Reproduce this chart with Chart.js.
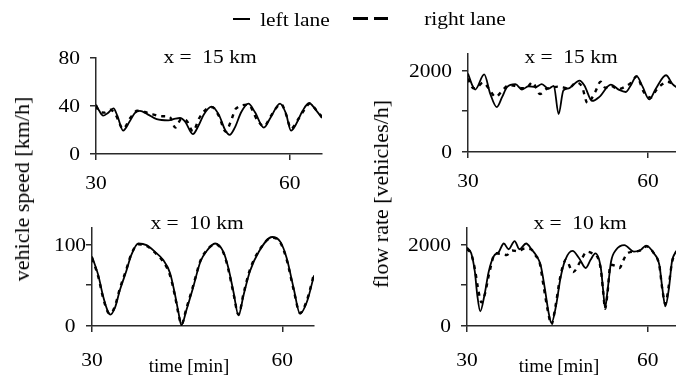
<!DOCTYPE html>
<html>
<head>
<meta charset="utf-8">
<script src="https://cdn.jsdelivr.net/npm/chart.js@4.4.1/dist/chart.umd.min.js"></script>
<style>
  html, body { margin: 0; padding: 0; background: #fff; overflow: hidden; width: 676px; height: 381px; }
  canvas { position: absolute; left: 0; top: 0; }
  .t { position: absolute; font-family: "Liberation Serif", "Times New Roman", serif; color: #000;
       white-space: pre; line-height: 1; transform: translate(-50%, -50%) scaleX(1.13); }
  .rot { position: absolute; font-family: "Liberation Serif", "Times New Roman", serif; color: #000;
         white-space: pre; line-height: 1; font-size: 22px; transform: translate(-50%, -50%) rotate(-90deg); }
  .key { position: absolute; background: #000; }
</style>
</head>
<body>
<canvas id="speed15" width="680" height="381"></canvas>
<canvas id="flow15" width="680" height="381"></canvas>
<canvas id="speed10" width="680" height="381"></canvas>
<canvas id="flow10" width="680" height="381"></canvas>

<!-- legend -->
<div class="key" style="left:233px;top:18px;width:17px;height:2px;"></div>
<div class="t" style="left:295px;top:19px;font-size:19px;">left lane</div>
<div class="key" style="left:353px;top:17px;width:15px;height:3px;"></div>
<div class="key" style="left:374px;top:17px;width:14px;height:3px;"></div>
<div class="t" style="left:465px;top:18px;font-size:19px;">right lane</div>

<!-- panel titles -->
<div class="t" style="left:210px;top:56px;font-size:19px;">x =  15 km</div>
<div class="t" style="left:571px;top:56px;font-size:19px;">x =  15 km</div>
<div class="t" style="left:197px;top:222px;font-size:19px;">x =  10 km</div>
<div class="t" style="left:580px;top:222px;font-size:19px;">x =  10 km</div>

<!-- axis titles -->
<div class="rot" style="left:22px;top:189px;">vehicle speed [km/h]</div>
<div class="rot" style="left:381px;top:194px;">flow rate [vehicles/h]</div>
<div class="t" style="left:189px;top:365px;font-size:19px;transform:translate(-50%,-50%);">time [min]</div>
<div class="t" style="left:559px;top:365px;font-size:19px;transform:translate(-50%,-50%);">time [min]</div>

<script>
// ---- time axis (minutes) ----
const timeTicks = [30, 60];
const timeLabels = ['30', '60'];

// ---- speed at x = 15 km ----
const speed15Ticks = [0, 40, 80];
const speed15Labels = ['0', '40', '80'];
const speed15LeftT  = [30, 30.5, 31.1, 31.8, 32.7, 33.3, 34.2, 35.2, 36.0, 36.8, 38.0, 39.4, 41.2, 42.3, 43.0, 43.8, 45.0, 45.9, 46.7, 47.9, 49.0, 50.0, 50.7, 51.5, 52.5, 53.6, 54.6, 56.0, 57.0, 58.5, 59.4, 60.2, 61.0, 62.0, 63.0, 64.0, 65.0];
const speed15LeftV  = [41, 36, 32, 34, 38, 32, 19.5, 27, 34, 36, 33, 29, 28, 29.5, 30, 27, 16.5, 24, 33, 39.5, 33, 20, 16, 22, 35, 42, 35, 22, 30, 42, 34, 19.5, 25, 36, 42.5, 37, 30];
const speed15RightT = [30, 30.6, 31.3, 32.2, 33.0, 34.2, 35.3, 36.4, 37.5, 38.8, 40.2, 41.4, 42.3, 43.2, 44.0, 45.0, 46.0, 47.0, 48.0, 49.0, 50.1, 50.8, 51.7, 53.6, 55.0, 56.0, 57.0, 58.0, 58.7, 59.5, 60.2, 61.2, 62.3, 63.1, 64.2, 65.0];
const speed15RightV = [40, 35, 34.5, 37, 33, 21, 30, 36, 35, 33, 31.5, 31, 22, 29, 28, 19, 30, 37, 39, 32, 18.5, 26, 38, 41, 28, 23, 31, 39, 41.5, 32, 21, 28, 37, 42, 36, 31];

// ---- flow at x = 15 km ----
const flow15Ticks = [0, 1000, 2000];
const flow15Labels = ['0', '', '2000'];
const flow15LeftT  = [30, 30.7, 31.2, 32.7, 33.7, 34.8, 35.7, 36.5, 37.9, 39.0, 40.1, 41.2, 42.3, 43.4, 44.3, 45.1, 45.9, 46.8, 48.6, 49.4, 50.7, 51.9, 53.8, 55.2, 56.3, 57.2, 58.1, 59.1, 60.2, 61.3, 63.0, 64.1, 65.0];
const flow15LeftV  = [1920, 1640, 1530, 1900, 1430, 1100, 1350, 1590, 1660, 1530, 1610, 1590, 1660, 1550, 1620, 930, 1510, 1560, 1750, 1630, 1250, 1350, 1650, 1520, 1470, 1650, 1860, 1600, 1290, 1550, 1880, 1660, 1560];
const flow15RightT = [30, 30.3, 30.9, 31.5, 32.5, 33.5, 34.6, 35.8, 36.8, 37.8, 39.0, 40.0, 40.7, 42.0, 43.0, 44.1, 45.0, 45.9, 46.8, 48.0, 49.0, 49.9, 51.2, 52.1, 52.9, 53.7, 55.0, 56.3, 57.2, 58.1, 59.3, 60.5, 61.3, 62.2, 63.2, 64.6, 65.0];
const flow15RightV = [1800, 1700, 1560, 1580, 1700, 1550, 1350, 1520, 1640, 1620, 1560, 1600, 1710, 1420, 1540, 1580, 1600, 1580, 1560, 1700, 1600, 1200, 1470, 1720, 1570, 1630, 1540, 1610, 1700, 1850, 1470, 1330, 1500, 1640, 1720, 1640, 1620];

// ---- speed at x = 10 km ----
const speed10Ticks = [0, 50, 100];
const speed10Labels = ['0', '', '100'];
const speed10LeftT  = [30, 31.0, 31.7, 32.5, 32.9, 33.6, 34.4, 35.4, 36.2, 37.3, 38.6, 39.9, 41.2, 42.3, 43.1, 43.6, 44.1, 44.9, 45.9, 47.1, 48.0, 49.4, 50.7, 51.5, 52.3, 53.1, 53.9, 54.9, 56.3, 58.4, 59.7, 60.7, 61.8, 62.8, 63.9, 65.0];
const speed10LeftV  = [85, 62, 38, 18, 14, 22, 44, 67, 87, 101, 99, 91, 81, 65, 38, 18, 1, 20, 46, 79, 91, 101, 91, 71, 42, 13, 38, 67, 91, 109, 103, 83, 46, 15, 30, 62];
const speed10RightT = speed10LeftT;
const speed10RightV = [83, 60, 36, 17, 15, 24, 46, 69, 88, 100, 98, 90, 79, 62, 36, 16, 2, 22, 48, 80, 92, 100, 90, 69, 40, 14, 40, 69, 92, 108, 102, 81, 44, 16, 32, 64];

// ---- flow at x = 10 km ----
const flow10Ticks = [0, 1000, 2000];
const flow10Labels = ['0', '', '2000'];
const flow10LeftT  = [30, 30.7, 31.3, 31.7, 32.2, 32.9, 33.6, 34.4, 35.3, 36.1, 36.9, 37.9, 38.7, 39.8, 40.8, 41.6, 42.2, 42.9, 43.5, 44.0, 44.8, 45.5, 46.3, 47.5, 48.6, 49.7, 50.5, 51.3, 52.2, 52.6, 52.9, 53.3, 53.9, 54.7, 56.1, 57.7, 58.8, 59.7, 61.0, 61.9, 62.4, 62.9, 63.5, 64.0, 64.7, 65.0];
const flow10LeftV  = [1920, 1780, 1330, 760, 360, 760, 1330, 1700, 1820, 2020, 1880, 2080, 1880, 2020, 1860, 1700, 1500, 930, 360, 70, 520, 1170, 1620, 1840, 1660, 1420, 1620, 1780, 1420, 850, 440, 850, 1580, 1860, 1980, 1820, 1860, 1970, 1780, 1500, 930, 480, 930, 1580, 1820, 1880];
const flow10RightT = [30, 30.7, 31.3, 31.8, 32.4, 33.0, 33.7, 34.7, 35.5, 36.6, 37.5, 38.5, 39.6, 40.6, 41.4, 42.0, 42.7, 43.4, 44.0, 44.7, 45.4, 46.4, 47.6, 48.8, 49.9, 50.8, 51.6, 52.2, 52.6, 52.9, 53.3, 53.8, 54.5, 55.3, 55.9, 56.6, 57.7, 58.8, 59.8, 61.0, 61.9, 62.4, 62.9, 63.4, 64.0, 64.6, 65.0];
const flow10RightV = [1880, 1760, 1400, 950, 580, 800, 1300, 1780, 1770, 1740, 1850, 1830, 1900, 1880, 1720, 1580, 980, 380, 40, 500, 1150, 1620, 1320, 1580, 1820, 1780, 1700, 1380, 820, 420, 800, 1500, 1480, 1420, 1600, 1780, 1820, 1850, 1950, 1780, 1480, 900, 540, 920, 1550, 1800, 1850];

const PAGE_W = 680, PAGE_H = 381;
const FONT = '"Liberation Serif", "Times New Roman", serif';
const INK = '#000';
const AXIS = '#2a2a2a';

function points(ts, vs) {
  return ts.map((t, i) => ({ x: t, y: vs[i] }));
}

// draws tick labels slightly widened, positioned from the chart's own scales
const tickText = {
  id: 'tickText',
  afterDraw(chart, args, o) {
    const ctx = chart.ctx;
    const xs = chart.scales.x, ys = chart.scales.y;
    const put = (txt, x, y, align) => {
      ctx.save();
      ctx.translate(x, y);
      ctx.scale(o.stretch, 1);
      ctx.textAlign = align;
      ctx.textBaseline = 'alphabetic';
      ctx.fillText(txt, 0, 0);
      ctx.restore();
    };
    ctx.save();
    ctx.fillStyle = INK;
    ctx.font = o.size + 'px ' + FONT;
    o.yTicks.forEach((v, i) => {
      const lab = o.yLabels[i];
      if (!lab) return;
      put(lab, ys.right - o.yGap, ys.getPixelForValue(v) + 0.34 * o.size, o.yAlign);
    });
    o.xTicks.forEach((v, i) => {
      put(o.xLabels[i], xs.getPixelForValue(v), xs.top + o.xGap + 0.34 * o.size, 'center');
    });
    ctx.restore();
  }
};

function panel(id, area, yMax, yTicks, yLabels, left, right, yGap, yAlign, xGap) {
  const axisCommon = {
    ticks: { display: false },
    grid: { drawOnChartArea: false, drawTicks: true, tickLength: 6, color: AXIS, lineWidth: 1.5 },
    border: { display: true, color: AXIS, width: 1.5 }
  };
  return new Chart(document.getElementById(id), {
    type: 'line',
    data: {
      datasets: [
        { label: 'left lane', data: points(left[0], left[1]), borderColor: INK, borderWidth: 1.8,
          pointRadius: 0, fill: false, cubicInterpolationMode: 'monotone' },
        { label: 'right lane', data: points(right[0], right[1]), borderColor: INK, borderWidth: 2.4,
          borderDash: [4, 5], pointRadius: 0, fill: false, cubicInterpolationMode: 'monotone' }
      ]
    },
    options: {
      responsive: false,
      animation: false,
      devicePixelRatio: 1,
      events: [],
      layout: { padding: { left: area[0], top: area[1], right: PAGE_W - area[2], bottom: PAGE_H - area[3] } },
      plugins: {
        legend: { display: false },
        tooltip: { enabled: false },
        tickText: { size: 19, stretch: 1.13, yTicks, yLabels, yGap, yAlign,
                    xTicks: timeTicks, xLabels: timeLabels, xGap }
      },
      scales: {
        x: Object.assign({}, axisCommon, {
          type: 'linear', min: 30, max: 65,
          afterBuildTicks: s => { s.ticks = timeTicks.map(v => ({ value: v })); },
          afterFit: s => { s.height = 0; }
        }),
        y: Object.assign({}, axisCommon, {
          type: 'linear', min: 0, max: yMax,
          afterBuildTicks: s => { s.ticks = yTicks.map(v => ({ value: v })); },
          afterFit: s => { s.width = 0; }
        })
      }
    },
    plugins: [tickText]
  });
}

panel('speed15', [96, 58, 322, 154], 80, speed15Ticks, speed15Labels,
      [speed15LeftT, speed15LeftV], [speed15RightT, speed15RightV], 16, 'right', 29);
panel('flow15', [468, 54, 678, 152], 2400, flow15Ticks, flow15Labels,
      [flow15LeftT, flow15LeftV], [flow15RightT, flow15RightV], 16, 'right', 29);
panel('speed10', [92, 228, 314, 326], 120, speed10Ticks, speed10Labels,
      [speed10LeftT, speed10LeftV], [speed10RightT, speed10RightV], 22, 'center', 34);
panel('flow10', [467, 228, 678, 326], 2400, flow10Ticks, flow10Labels,
      [flow10LeftT, flow10LeftV], [flow10RightT, flow10RightV], 16, 'right', 34);
</script>
</body>
</html>
